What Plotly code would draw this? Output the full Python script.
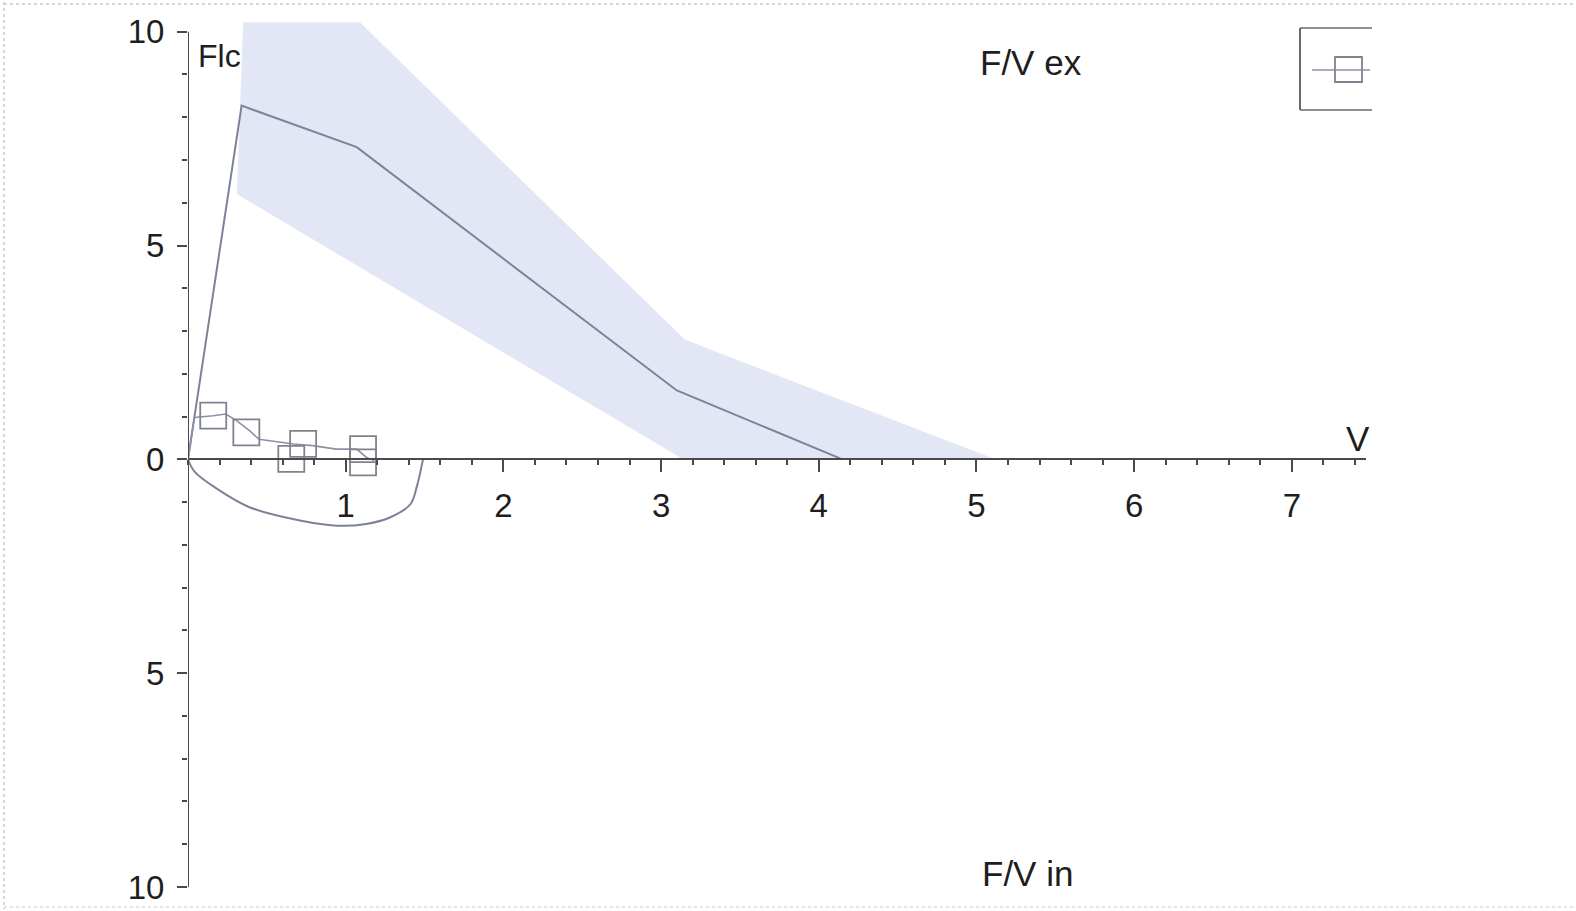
import plotly.graph_objects as go

# ---- data ----
band_vol = [0.31, 0.35, 1.09, 3.15, 5.12, 3.14, 0.31]
band_flow = [6.2, 10.22, 10.22, 2.8, 0.0, 0.0, 6.2]

pred_ex_vol = [0, 0.34, 1.07, 3.10, 4.15]
pred_ex_flow = [0, 8.27, 7.30, 1.61, 0.0]

pred_in_vol = [0, 0.04, 0.18, 0.39, 0.71, 0.94, 1.13, 1.28, 1.41, 1.45, 1.49]
pred_in_flow = [0, -0.28, -0.68, -1.12, -1.43, -1.55, -1.51, -1.36, -1.05, -0.65, 0.0]

meas_vol = [0, 0.04, 0.16, 0.24, 0.31, 0.39, 0.45, 0.67, 0.79, 0.94, 1.07, 1.13, 1.18]
meas_flow = [0, 0.98, 1.02, 1.06, 0.90, 0.67, 0.47, 0.36, 0.32, 0.24, 0.24, 0.05, -0.03]

marker_vol = [0.16, 0.37, 0.73, 0.655, 1.11, 1.11]
marker_flow = [1.02, 0.63, 0.36, 0.01, 0.24, -0.07]

y_tickvals = [-10, -5, 0, 5, 10]
y_ticktext = ["10", "5", "0", "5", "10"]
x_tickvals = [1, 2, 3, 4, 5, 6, 7]
x_ticktext = ["1", "2", "3", "4", "5", "6", "7"]

# ---- layout geometry ----
W, H = 1576, 911
ML, MR, MT, MB = 188, 210, 21, 24
PW, PH = W - ML - MR, H - MT - MB
Y_MIN, Y_MAX = -10, 10.25
X_MIN, X_MAX = 0, 7.47


def px(X):
    return (X - ML) / PW


def py(Y):
    return (H - MB - Y) / PH


LINE_C = "#7d8299"
BAND_C = "#e3e7f5"
AXIS_C = "#4a4a4a"
TEXT_C = "#1e1e1e"
FONT = "Liberation Sans, Arial, sans-serif"

fig = go.Figure()

fig.add_trace(go.Scatter(x=band_vol, y=band_flow, fill="toself", mode="none",
                         fillcolor=BAND_C, hoverinfo="skip", showlegend=False))
fig.add_trace(go.Scatter(x=pred_ex_vol, y=pred_ex_flow, mode="lines",
                         line=dict(color=LINE_C, width=2), showlegend=False))
fig.add_trace(go.Scatter(x=pred_in_vol, y=pred_in_flow, mode="lines",
                         line=dict(color=LINE_C, width=2, shape="spline", smoothing=1.0),
                         showlegend=False))
fig.add_trace(go.Scatter(x=meas_vol, y=meas_flow, mode="lines",
                         line=dict(color="#8c90a6", width=1.6), showlegend=False))
fig.add_trace(go.Scatter(x=marker_vol, y=marker_flow, mode="markers",
                         marker=dict(symbol="square-open", size=26,
                                     line=dict(color="#80838f", width=1.8),
                                     color="#80838f"),
                         showlegend=False))

shapes = []
# y axis line from -10 to 10
shapes.append(dict(type="line", xref="x", yref="y", x0=0, x1=0, y0=-10, y1=10,
                   line=dict(color=AXIS_C, width=2)))
# manual legend box (clipped on the right as in the reference)
lc = "#6a6a6a"
shapes.append(dict(type="line", xref="paper", yref="paper", x0=px(1300), x1=px(1300),
                   y0=py(28), y1=py(110), line=dict(color=lc, width=2)))
shapes.append(dict(type="line", xref="paper", yref="paper", x0=px(1300), x1=px(1372),
                   y0=py(28), y1=py(28), line=dict(color=lc, width=1.5)))
shapes.append(dict(type="line", xref="paper", yref="paper", x0=px(1300), x1=px(1372),
                   y0=py(110), y1=py(110), line=dict(color=lc, width=1.5)))
shapes.append(dict(type="line", xref="paper", yref="paper", x0=px(1312), x1=px(1370),
                   y0=py(70), y1=py(70), line=dict(color="#8c90a6", width=1.5)))
shapes.append(dict(type="rect", xref="paper", yref="paper", x0=px(1335), x1=px(1362),
                   y0=py(57), y1=py(82), line=dict(color="#80838f", width=1.8)))
# scan frame
fc = "#c9c9c9"
shapes.append(dict(type="line", xref="paper", yref="paper", x0=px(4), x1=px(4),
                   y0=py(2), y1=py(909), line=dict(color=fc, width=1.5, dash="dot")))
shapes.append(dict(type="line", xref="paper", yref="paper", x0=px(4), x1=px(1576),
                   y0=py(4), y1=py(4), line=dict(color=fc, width=1.5, dash="dot")))
shapes.append(dict(type="line", xref="paper", yref="paper", x0=px(4), x1=px(1576),
                   y0=py(907), y1=py(907), line=dict(color="#dddddd", width=1.5, dash="dot")))

annotations = [
    dict(text="Flc", xref="paper", yref="paper", x=px(196), y=py(56), xanchor="left",
         yanchor="middle", showarrow=False, font=dict(size=32, color=TEXT_C, family=FONT)),
    dict(text="F/V ex", xref="paper", yref="paper", x=px(1031), y=py(62), xanchor="center",
         yanchor="middle", showarrow=False, font=dict(size=35, color=TEXT_C, family=FONT)),
    dict(text="F/V in", xref="paper", yref="paper", x=px(1027), y=py(873), xanchor="center",
         yanchor="middle", showarrow=False, font=dict(size=35, color=TEXT_C, family=FONT)),
    dict(text="V", xref="paper", yref="paper", x=px(1358), y=py(439), xanchor="center",
         yanchor="middle", showarrow=False, font=dict(size=35, color=TEXT_C, family=FONT)),
]

fig.update_layout(
    width=W, height=H, autosize=False,
    margin=dict(l=ML, r=MR, t=MT, b=MB, pad=0, autoexpand=False),
    paper_bgcolor="white", plot_bgcolor="white",
    showlegend=False,
    shapes=shapes,
    annotations=annotations,
    xaxis=dict(range=[X_MIN, X_MAX], anchor="free", position=(0 - Y_MIN) / (Y_MAX - Y_MIN),
               automargin=False,
               showgrid=False, zeroline=False, showline=True, linecolor=AXIS_C, linewidth=2,
               ticks="outside", ticklen=12, tickwidth=2, tickcolor=AXIS_C,
               tickvals=x_tickvals, ticktext=x_ticktext, ticklabelstandoff=5,
               tickfont=dict(size=33, color=TEXT_C, family=FONT),
               minor=dict(dtick=0.2, tick0=0, ticks="outside", ticklen=5, tickwidth=1.5,
                          tickcolor=AXIS_C, showgrid=False)),
    yaxis=dict(range=[Y_MIN, Y_MAX], automargin=False,
               showgrid=False, zeroline=False, showline=False,
               ticks="outside", ticklen=10, tickwidth=2, tickcolor=AXIS_C,
               tickvals=y_tickvals, ticktext=y_ticktext, ticklabelstandoff=6,
               tickfont=dict(size=33, color=TEXT_C, family=FONT),
               minor=dict(tickvals=[v for v in range(-9, 10) if v % 5 != 0],
                          ticks="outside", ticklen=5, tickwidth=1.5,
                          tickcolor=AXIS_C, showgrid=False)),
)

fig.write_html("out.html", config={"displayModeBar": False},
               post_script="document.body.style.margin='0';document.body.style.padding='0';")
